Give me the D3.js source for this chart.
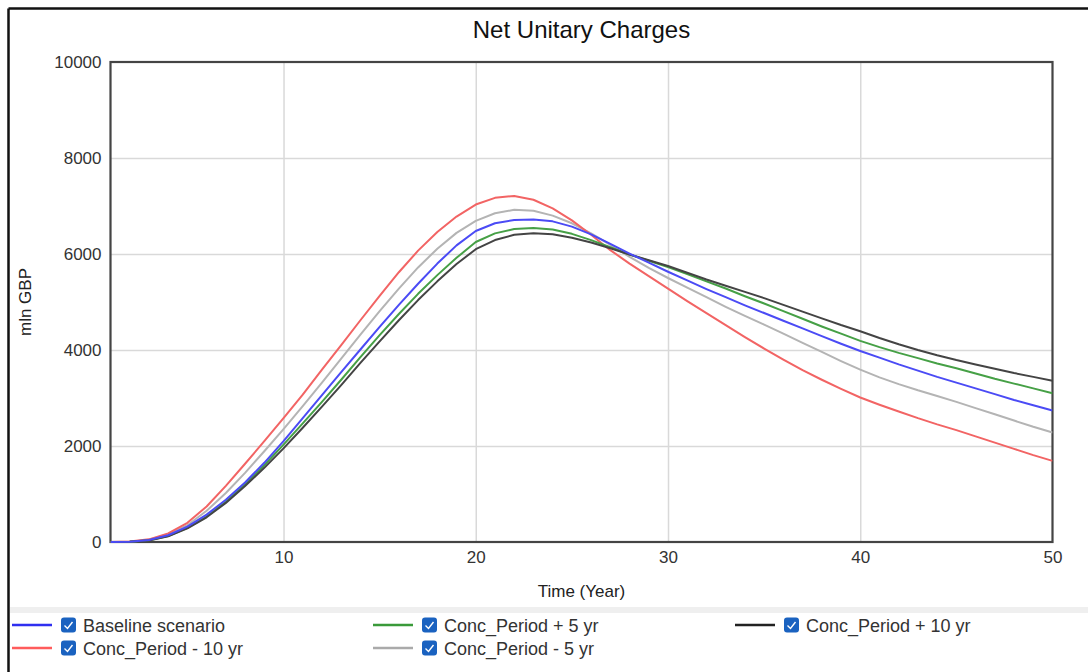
<!DOCTYPE html>
<html>
<head>
<meta charset="utf-8">
<script src="https://cdn.jsdelivr.net/npm/d3@7/dist/d3.min.js"></script>
<style>
  html, body { margin: 0; padding: 0; background: #fff; }
  svg { display: block; }
  text { font-family: "Liberation Sans", Arial, sans-serif; }
</style>
</head>
<body>
<svg id="chart" width="1088" height="672"></svg>
<script>
const years = [1,2,3,4,5,6,7,8,9,10,11,12,13,14,15,16,17,18,19,20,21,22,23,24,25,26,27,28,29,30,31,32,33,34,35,36,37,38,39,40,41,42,43,44,45,46,47,48,49,50];

const baseline = [0,5,40,140,320,570,880,1240,1650,2100,2580,3060,3540,4010,4480,4940,5380,5800,6180,6480,6640,6710,6720,6680,6570,6410,6210,6010,5820,5630,5450,5270,5100,4930,4770,4610,4450,4290,4130,3980,3840,3700,3570,3440,3320,3200,3080,2960,2850,2740];
const concMinus10 = [0,8,55,180,400,740,1170,1630,2100,2580,3070,3590,4100,4620,5130,5620,6070,6460,6780,7030,7170,7210,7130,6950,6700,6400,6080,5800,5540,5280,5020,4770,4520,4270,4030,3800,3580,3380,3190,3010,2860,2720,2580,2450,2330,2200,2070,1940,1810,1690];
const concMinus5 = [0,6,48,160,350,650,1020,1440,1890,2350,2830,3320,3820,4320,4810,5280,5720,6110,6440,6690,6850,6920,6900,6800,6640,6430,6190,5940,5710,5500,5300,5100,4900,4710,4530,4340,4150,3960,3770,3590,3430,3290,3160,3040,2920,2790,2660,2530,2400,2280];
const concPlus5 = [0,4,35,125,295,530,840,1200,1600,2030,2470,2920,3380,3850,4310,4750,5170,5560,5920,6250,6430,6520,6540,6510,6420,6290,6140,5990,5860,5730,5580,5430,5280,5120,4970,4810,4650,4490,4340,4190,4060,3940,3830,3720,3620,3510,3400,3300,3200,3100];
const concPlus10 = [0,4,32,118,285,515,815,1165,1545,1950,2380,2820,3270,3730,4180,4620,5040,5430,5790,6100,6290,6400,6430,6410,6340,6240,6120,5990,5870,5750,5610,5470,5340,5210,5080,4940,4800,4660,4520,4390,4250,4120,4000,3890,3790,3700,3610,3520,3440,3360];

const xTicks = [10,20,30,40,50];
const yTicks = [0,2000,4000,6000,8000,10000];

const seriesNames = ["Baseline scenario","Conc_Period + 5 yr","Conc_Period + 10 yr","Conc_Period - 10 yr","Conc_Period - 5 yr"];
const seriesData = [baseline, concPlus5, concPlus10, concMinus10, concMinus5];
const lineColors = ["#4b4bf5","#46a046","#444444","#f26464","#b4b4b4"];
const legendColors = ["#2f2ff0","#3a9a3a","#222222","#ff5c5c","#aaaaaa"];
const drawOrder = [4,3,1,2,0];

const svg = d3.select("#chart");
const W = 1088, H = 672;
const plot = {left: 110.5, right: 1052.5, top: 62, bottom: 542};

const x = d3.scaleLinear().domain([1,50]).range([plot.left, plot.right]);
const y = d3.scaleLinear().domain([0,10000]).range([plot.bottom, plot.top]);

// outer frame (left & top edges)
svg.append("line").attr("x1",8.5).attr("y1",8.5).attr("x2",W).attr("y2",8.5).attr("stroke","#111").attr("stroke-width",2.5);
svg.append("line").attr("x1",8.5).attr("y1",8.5).attr("x2",8.5).attr("y2",H).attr("stroke","#111").attr("stroke-width",2.5);

// title
svg.append("text").attr("x",(plot.left+plot.right)/2).attr("y",38)
  .attr("text-anchor","middle").attr("font-size",24).attr("fill","#111")
  .text("Net Unitary Charges");

// gridlines
const g = svg.append("g");
g.append("g").attr("transform",`translate(0,${plot.bottom})`)
  .call(d3.axisBottom(x).tickValues(xTicks.filter(t=>t<50)).tickSize(-(plot.bottom-plot.top)).tickFormat(""))
  .call(s=>s.select(".domain").remove())
  .call(s=>s.selectAll("line").attr("stroke","#d9d9d9").attr("stroke-width",1.5));
g.append("g").attr("transform",`translate(${plot.left},0)`)
  .call(d3.axisLeft(y).tickValues(yTicks.filter(t=>t>0&&t<10000)).tickSize(-(plot.right-plot.left)).tickFormat(""))
  .call(s=>s.select(".domain").remove())
  .call(s=>s.selectAll("line").attr("stroke","#d9d9d9").attr("stroke-width",1.5));

// tick labels
const xa = svg.append("g").attr("transform",`translate(0,${plot.bottom})`)
  .call(d3.axisBottom(x).tickValues(xTicks).tickSize(0).tickPadding(9).tickFormat(d3.format("d")));
xa.select(".domain").remove();
xa.selectAll("text").attr("font-size",17).attr("fill","#333").attr("font-family","Liberation Sans, Arial, sans-serif");
const ya = svg.append("g").attr("transform",`translate(${plot.left},0)`)
  .call(d3.axisLeft(y).tickValues(yTicks).tickSize(0).tickPadding(9).tickFormat(d3.format("d")));
ya.select(".domain").remove();
ya.selectAll("text").attr("font-size",17).attr("fill","#333").attr("font-family","Liberation Sans, Arial, sans-serif");

// axis titles
svg.append("text").attr("x",(plot.left+plot.right)/2).attr("y",597)
  .attr("text-anchor","middle").attr("font-size",17).attr("fill","#222").text("Time (Year)");
svg.append("text").attr("transform",`translate(31,${(plot.top+plot.bottom)/2}) rotate(-90)`)
  .attr("text-anchor","middle").attr("font-size",17).attr("fill","#222").text("mln GBP");

// plot frame
svg.append("rect").attr("x",plot.left).attr("y",plot.top)
  .attr("width",plot.right-plot.left).attr("height",plot.bottom-plot.top)
  .attr("fill","none").attr("stroke","#444").attr("stroke-width",2.2);

// lines (drawn over the frame, clipped to the plot area)
svg.append("clipPath").attr("id","clip").append("rect")
  .attr("x",plot.left).attr("y",plot.top-2).attr("width",plot.right-plot.left).attr("height",plot.bottom-plot.top+3);
const lineGen = d3.line().x((d,i)=>x(years[i])).y(d=>y(d));
const lg = svg.append("g").attr("clip-path","url(#clip)");
drawOrder.forEach(k=>{
  lg.append("path").datum(seriesData[k]).attr("d",lineGen)
    .attr("fill","none").attr("stroke",lineColors[k]).attr("stroke-width",2)
    .attr("stroke-linejoin","round");
});

// legend separator band
svg.append("rect").attr("x",10).attr("y",607).attr("width",W-10).attr("height",6).attr("fill","#efefef");

// legend
const legendPos = [
  {x:12, y:625},{x:373, y:625},{x:735, y:625},
  {x:12, y:648},{x:373, y:648}
];
const leg = svg.append("g");
seriesNames.forEach((name,k)=>{
  const p = legendPos[k];
  const it = leg.append("g").attr("transform",`translate(${p.x},${p.y})`);
  it.append("line").attr("x1",0).attr("x2",40).attr("y1",0).attr("y2",0)
    .attr("stroke",legendColors[k]).attr("stroke-width",2.5);
  it.append("rect").attr("x",49).attr("y",-7.5).attr("width",15).attr("height",15).attr("rx",3)
    .attr("fill","#1a62c0");
  it.append("path").attr("d","M52.5,0.5 L55.5,3.5 L60.5,-3")
    .attr("fill","none").attr("stroke","#fff").attr("stroke-width",1.4);
  it.append("text").attr("x",71).attr("y",6.5).attr("font-size",18).attr("fill","#333").text(name);
});
</script>
</body>
</html>
